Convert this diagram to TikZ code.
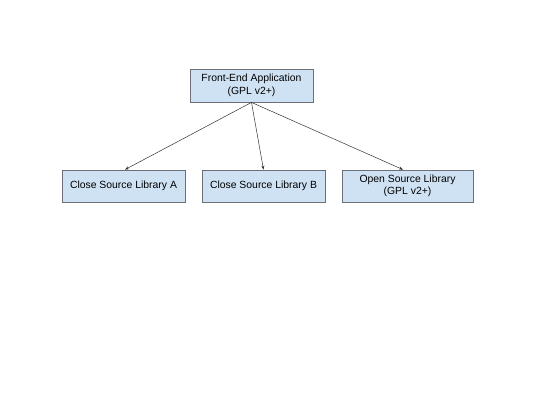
\documentclass[tikz,border=0pt]{standalone}
\usepackage{fontspec}
\setmainfont{Liberation Sans}
\usetikzlibrary{arrows.meta}
\definecolor{boxfill}{HTML}{CFE2F3}
\definecolor{boxline}{HTML}{6A6F78}
\begin{document}
\begin{tikzpicture}[x=1pt,y=-1pt,
  box/.style={draw=boxline,fill=boxfill,line width=0.8pt,inner sep=0pt,align=center,font=\fontsize{10.4}{12.5}\selectfont},
  conn/.style={draw=black!80,line width=0.5pt,-{Stealth[length=4pt,width=3pt]}}]
\useasboundingbox (0,0) rectangle (540,405);
\fill[white] (0,0) rectangle (540,405);
\node[box,minimum width=123pt,minimum height=33pt] (top) at (251.5,85.5) {Front-End Application\\(GPL v2+)};
\node[box,minimum width=123pt,minimum height=32pt] (a) at (123.5,186) {Close Source Library A};
\node[box,minimum width=123pt,minimum height=32pt] (b) at (263.5,186) {Close Source Library B};
\node[box,minimum width=131pt,minimum height=32pt] (c) at (407.5,186) {Open Source Library\\(GPL v2+)};
\draw[conn] (top.south) -- ([xshift=1.5pt]a.north);
\draw[conn] (top.south) -- (b.north);
\draw[conn] (top.south) -- ([xshift=-4.5pt]c.north);
\end{tikzpicture}
\end{document}
